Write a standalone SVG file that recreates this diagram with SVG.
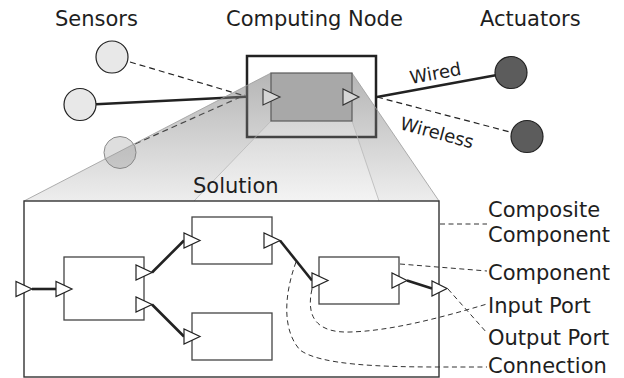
<svg xmlns="http://www.w3.org/2000/svg" width="624" height="378" viewBox="0 0 624 378">
  <defs>
    <style>
      text { font-family: "DejaVu Sans", Verdana, sans-serif; fill: #1e1e1e; }
      .title { font-size: 21px; }
      .link-label { font-size: 18px; }
      .sensor { fill: #e8e8e8; stroke: #222; stroke-width: 1.2; }
      .actuator { fill: #5c5c5c; stroke: #222; stroke-width: 1.2; }
      .wired { fill: none; stroke: #222; stroke-width: 2.5; }
      .wireless { fill: none; stroke: #222; stroke-width: 1.2; stroke-dasharray: 6 4; }
      .comp { fill: #fff; stroke: #444; stroke-width: 1.3; }
      .port { fill: #fff; stroke: #222; stroke-width: 1.2; stroke-linejoin: miter; }
      .node-port { fill: #d6d6d6; stroke: #333; stroke-width: 1.1; }
      .conn { fill: none; stroke: #222; stroke-width: 2.6; }
      .leader { fill: none; stroke: #333; stroke-width: 1; stroke-dasharray: 5 3.5; }
      .edge { fill: none; stroke: #9a9a9a; stroke-width: 0.8; }
      .edge-light { fill: none; stroke: #b8b8b8; stroke-width: 0.8; }
    </style>
    <linearGradient id="faceShade" gradientUnits="userSpaceOnUse" x1="0" y1="73" x2="0" y2="201">
      <stop offset="0" stop-color="#8d8d8d" stop-opacity="0.52"/>
      <stop offset="1" stop-color="#8d8d8d" stop-opacity="0.1"/>
    </linearGradient>
    <linearGradient id="sideShade" gradientUnits="userSpaceOnUse" x1="0" y1="73" x2="0" y2="201">
      <stop offset="0" stop-color="#808080" stop-opacity="0.58"/>
      <stop offset="1" stop-color="#808080" stop-opacity="0.14"/>
    </linearGradient>
  </defs>

  <!-- headings -->
  <text class="title" x="55" y="26">Sensors</text>
  <text class="title" x="226" y="26">Computing Node</text>
  <text class="title" x="480" y="25.5">Actuators</text>

  <!-- computing node frame -->
  <g id="computing-node-frame">
    <rect x="247" y="56" width="129" height="81" fill="#fff" stroke="#222" stroke-width="2.5"/>
  </g>

  <!-- network links between sensors, node and actuators -->
  <g id="network-links">
    <path class="wireless" d="M130 62 L245 96"/>
    <path class="wired" d="M96 104.3 L246 96.7"/>
    <path class="wireless" d="M135 144 L245 95"/>
    <path class="wired" d="M377 97 L497 75"/>
    <path class="wireless" d="M377 97 L510 132"/>
    <text class="link-label" x="411" y="84" transform="rotate(-10.4 411 84)">Wired</text>
    <text class="link-label" x="399" y="129" transform="rotate(15 399 129)">Wireless</text>
  </g>

  <!-- sensors -->
  <g id="sensor-1"><circle class="sensor" cx="112" cy="57" r="16"/></g>
  <g id="sensor-2"><circle class="sensor" cx="80" cy="104.5" r="16"/></g>
  <g id="sensor-3"><circle cx="120" cy="152.5" r="16" fill="#dedede" stroke="#8a8a8a" stroke-width="1"/></g>

  <!-- actuators -->
  <g id="actuator-1"><circle class="actuator" cx="511" cy="72.5" r="16"/></g>
  <g id="actuator-2"><circle class="actuator" cx="527" cy="136.5" r="16"/></g>

  <!-- zoom volume from the node's component to the composite -->
  <g id="zoom-volume">
    <polygon points="271,121 352,121 379,201 194,201" fill="url(#faceShade)"/>
    <polygon points="271,73 271,121 194,201 24,201" fill="url(#sideShade)"/>
    <polygon points="352,73 439,201 379,201 352,121" fill="url(#sideShade)"/>
    <path class="edge" d="M271 73 L24 201 M352 73 L439 201"/>
    <path class="edge-light" d="M271 121 L194 201 M352 121 L379 201"/>
  </g>

  <!-- component deployed on the node -->
  <g id="node-component">
    <rect x="271" y="73" width="81" height="48" fill="#a8a8a8" stroke="#5a5a5a" stroke-width="1.2"/>
    <path class="node-port" d="M263 89 L263 105 L280 97 Z"/>
    <path class="node-port" d="M343 89 L343 105 L359 97 Z"/>
  </g>

  <text class="title" x="193" y="193">Solution</text>

  <!-- composite component -->
  <g id="composite">
    <rect x="24" y="201" width="415" height="176" fill="#fff" stroke="#333" stroke-width="1.4"/>
  </g>

  <g id="component-a"><rect class="comp" x="64" y="257" width="80" height="63"/></g>
  <g id="component-b"><rect class="comp" x="192" y="217" width="80" height="47"/></g>
  <g id="component-c"><rect class="comp" x="192" y="313" width="80" height="47"/></g>
  <g id="component-d"><rect class="comp" x="319" y="257" width="80" height="47"/></g>

  <!-- connections -->
  <g id="connections">
    <path class="conn" d="M32 289 H56"/>
    <path class="conn" d="M152 272.5 L184 240.5"/>
    <path class="conn" d="M152 304.5 L184 336.5"/>
    <path class="conn" d="M280 240.5 L312 280.5"/>
    <path class="conn" d="M407 280.5 L432 288.5"/>
  </g>

  <!-- ports -->
  <g id="ports">
    <path class="port" d="M16 281.5 L16 296.5 L32 289 Z"/>
    <path class="port" d="M56 281.5 L56 296.5 L72 289 Z"/>
    <path class="port" d="M136 265 L136 280 L152 272.5 Z"/>
    <path class="port" d="M136 297 L136 312 L152 304.5 Z"/>
    <path class="port" d="M184 233 L184 248 L200 240.5 Z"/>
    <path class="port" d="M264 233 L264 248 L280 240.5 Z"/>
    <path class="port" d="M184 329 L184 344 L200 336.5 Z"/>
    <path class="port" d="M312 273 L312 288 L328 280.5 Z"/>
    <path class="port" d="M392 273 L392 288 L407 280.5 Z"/>
    <path class="port" d="M432 281 L432 296 L447 288.5 Z"/>
  </g>

  <!-- legend leaders -->
  <g id="leaders">
    <path class="leader" d="M440 224 H487"/>
    <path class="leader" d="M400 264 L487 271"/>
    <path class="leader" d="M312 289 C305 320 320 333 350 332 C390 331 440 318 487 304"/>
    <path class="leader" d="M448 289 L487 333"/>
    <path class="leader" d="M296 262 C284 295 282 330 300 350 C320 365 380 367 440 367 L487 367"/>
  </g>

  <!-- legend -->
  <g id="legend">
    <text class="title" x="488" y="217">Composite</text>
    <text class="title" x="488" y="242">Component</text>
    <text class="title" x="488" y="280">Component</text>
    <text class="title" x="488" y="312.5">Input Port</text>
    <text class="title" x="488" y="345">Output Port</text>
    <text class="title" x="488" y="373">Connection</text>
  </g>
</svg>
